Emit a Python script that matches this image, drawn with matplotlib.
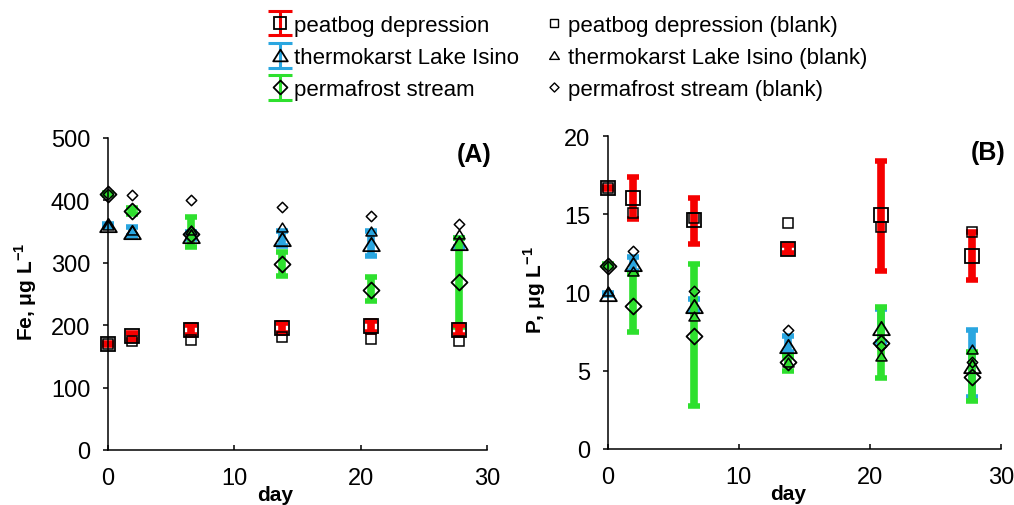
import numpy as np
import matplotlib
matplotlib.use('Agg')
import matplotlib.pyplot as plt
from matplotlib.lines import Line2D
from matplotlib.path import Path
from matplotlib.collections import LineCollection
from matplotlib.container import ErrorbarContainer
from matplotlib.legend_handler import HandlerErrorbar

plt.rcParams['font.family'] = ['Liberation Sans', 'DejaVu Sans']
plt.rcParams['mathtext.fontset'] = 'custom'
plt.rcParams['mathtext.rm'] = 'Liberation Sans'
plt.rcParams['mathtext.bf'] = 'Liberation Sans:bold'

# ---------------- data ----------------
days = [0, 1.95, 6.6, 13.75, 20.85, 27.8]

site_names = ['peatbog depression', 'thermokarst Lake Isino', 'permafrost stream']
blank_names = ['peatbog depression (blank)', 'thermokarst Lake Isino (blank)',
               'permafrost stream (blank)']

# Panel A: Fe, ug/L  (mean, lower, upper, blank)
fe_peat_mean = [170, 182, 192, 196, 198, 193]
fe_peat_lo = [168, 176, 184, 188, 189, 185]
fe_peat_hi = [172, 188, 200, 204, 207, 201]
fe_peat_blank = [170, 174, 177, 181, 178, 175]

fe_lake_mean = [360, 350, 343, 338, 330, 332]
fe_lake_lo = [358, 343, 338, 327, 311, 325]
fe_lake_hi = [362, 357, 350, 351, 351, 340]
fe_lake_blank = [360, 352, 352, 357, 351, 346]

fe_str_mean = [410, 383, 346, 298, 257, 270]
fe_str_lo = [408, 378, 326, 279, 238, 197]
fe_str_hi = [412, 388, 373, 317, 278, 339]
fe_str_blank = [410, 409, 400, 390, 375, 362]

# Panel B: P, ug/L
p_peat_mean = [16.67, 16.05, 14.65, 12.79, 14.99, 12.32]
p_peat_lo = [16.6, 14.71, 13.11, 12.55, 11.41, 10.83]
p_peat_hi = [16.75, 17.38, 16.05, 13.05, 18.44, 13.86]
p_peat_blank = [16.7, 15.07, 14.78, 14.46, 14.18, 13.9]

p_lake_mean = [9.91, 11.83, 9.17, 6.61, 7.72, 5.29]
p_lake_lo = [9.83, 11.4, 8.8, 6.18, 6.82, 3.30]
p_lake_hi = [10.0, 12.25, 9.6, 7.25, 8.96, 7.63]
p_lake_blank = [10.1, 11.4, 8.49, 5.54, 5.97, 6.4]

p_str_mean = [11.73, 9.17, 7.25, 5.54, 6.78, 4.58]
p_str_lo = [11.66, 7.46, 2.73, 5.01, 4.52, 3.09]
p_str_hi = [11.8, 11.19, 11.83, 5.97, 9.06, 6.18]
p_str_blank = [11.73, 12.69, 10.09, 7.61, 6.57, 5.54]

fe_yticks = [0, 100, 200, 300, 400, 500]
p_yticks = [0, 5, 10, 15, 20]
x_ticks = [0, 10, 20, 30]

# ---------------- styles ----------------
colors = ['#F50000', '#2AA6E0', '#2EE02E']


def closed_path(verts):
    verts = list(verts) + [verts[0]]
    codes = [Path.MOVETO] + [Path.LINETO] * (len(verts) - 2) + [Path.CLOSEPOLY]
    return Path(verts, codes)


tri_marker = closed_path([(-1.0, -0.8), (1.0, -0.8), (0.0, 0.8)])
dia_marker = closed_path([(0, 1), (1, 0), (0, -1), (-1, 0)])
markers = ['s', tri_marker, dia_marker]
big_ms = [10, 12, 11.5]
small_ms = [7, 8, 7.5]

fig = plt.figure(figsize=(10.14, 5.06), dpi=100)
axA = fig.add_axes([0.1062, 0.1087, 0.3741, 0.6166])
axB = fig.add_axes([0.5993, 0.1107, 0.3876, 0.6180])


def draw_panel(ax, means, los, his, blanks, ylim, yticks, ylabel, tag,
               ylab_x, xlab_x):
    # error bars: lake, stream, peat (peat on top)
    for i in [1, 2, 0]:
        m = np.array(means[i], float)
        lo = m - np.array(los[i], float)
        hi = np.array(his[i], float) - m
        eb = ax.errorbar(days, m, yerr=[lo, hi], fmt='none', ecolor=colors[i],
                         elinewidth=5.5, capsize=4.3, capthick=4, zorder=2)
        for art in eb.get_children():
            art.set_clip_on(False)
    for i in range(3):
        ax.plot(days, means[i], ls='none', marker=markers[i], ms=big_ms[i],
                mfc='none', mec='black', mew=1.3, zorder=5, clip_on=False)
        ax.plot(days, blanks[i], ls='none', marker=markers[i], ms=small_ms[i],
                mfc='none', mec='black', mew=1.1, zorder=6, clip_on=False)
    ax.set_xlim(0, 30)
    ax.set_ylim(*ylim)
    ax.set_xticks(x_ticks)
    ax.set_yticks(yticks)
    for s in ['top', 'right']:
        ax.spines[s].set_visible(False)
    for s in ['left', 'bottom']:
        ax.spines[s].set_linewidth(1.1)
    ax.tick_params(axis='y', direction='out', length=3.6, width=1.1, pad=9,
                   labelsize=17)
    ax.tick_params(axis='x', direction='in', length=3.6, width=1.1, pad=12,
                   labelsize=17)
    ax.set_ylabel(ylabel, fontsize=15, fontweight='bold')
    ax.yaxis.set_label_coords(ylab_x, 0.51)
    ax.set_xlabel('day', fontsize=15, fontweight='bold')
    ax.xaxis.set_label_coords(xlab_x, -0.112)
    ax.text(1.013, 0.949, tag, transform=ax.transAxes, ha='right', va='center',
            fontsize=18, fontweight='bold')


draw_panel(axA,
           [fe_peat_mean, fe_lake_mean, fe_str_mean],
           [fe_peat_lo, fe_lake_lo, fe_str_lo],
           [fe_peat_hi, fe_lake_hi, fe_str_hi],
           [fe_peat_blank, fe_lake_blank, fe_str_blank],
           (0, 500), fe_yticks, r'Fe, μg L$^{\mathbf{-1}}$', '(A)', -0.182, 0.441)
draw_panel(axB,
           [p_peat_mean, p_lake_mean, p_str_mean],
           [p_peat_lo, p_lake_lo, p_str_lo],
           [p_peat_hi, p_lake_hi, p_str_hi],
           [p_peat_blank, p_lake_blank, p_str_blank],
           (0, 20), p_yticks, r'P, μg L$^{\mathbf{-1}}$', '(B)', -0.152, 0.459)

# ---------------- legend ----------------
handles = []
leg_ms = [9, 10.5, 10]
for i in range(3):
    dl = Line2D([], [], ls='none', marker=markers[i], ms=leg_ms[i], mfc='none',
                mec='black', mew=1.3)
    cap = Line2D([], [], ls='none', marker='_', ms=17, mew=2.2, color=colors[i])
    bar = LineCollection([], colors=colors[i], linewidths=2.2)
    handles.append(ErrorbarContainer((dl, (cap, cap), (bar,)),
                                     has_xerr=False, has_yerr=True))
for i in range(3):
    handles.append(Line2D([], [], ls='none', marker=markers[i], ms=small_ms[i] - 1,
                          mfc='none', mec='black', mew=1.0))

fig.legend(handles, site_names + blank_names, ncol=2, loc='upper left',
           bbox_to_anchor=(267 / 1014, 1 - 16 / 506), frameon=False,
           borderpad=0, borderaxespad=0, handlelength=1.2, handletextpad=0.0,
           columnspacing=1.0, labelspacing=0.5, fontsize=16,
           handler_map={ErrorbarContainer: HandlerErrorbar(xerr_size=0.5,
                                                           yerr_size=0.55)})

fig.savefig('out.png', dpi=100)
